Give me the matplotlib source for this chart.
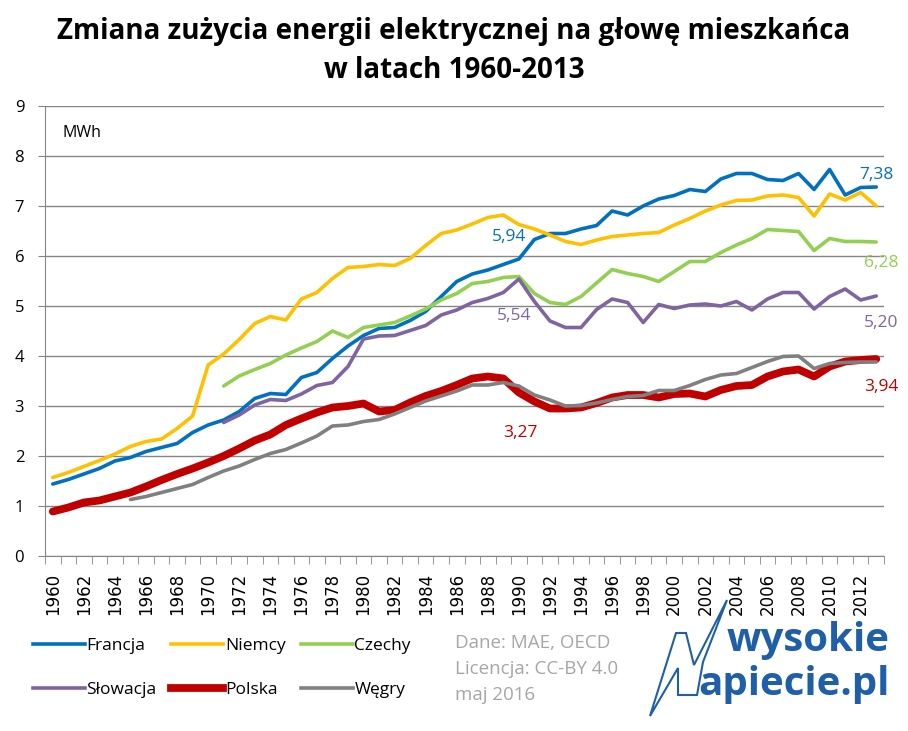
import numpy as np
import matplotlib
matplotlib.use("Agg")
import matplotlib.pyplot as plt
from matplotlib.lines import Line2D
from matplotlib.patches import Polygon

# Years on the category axis
years = list(range(1960, 2014))

# Consumption per capita, MWh; None = no data
francja = [1.44, 1.53, 1.64, 1.75, 1.90, 1.97, 2.09, 2.17, 2.25, 2.47,
           2.62, 2.72, 2.89, 3.15, 3.25, 3.23, 3.57, 3.67, 3.95, 4.20,
           4.41, 4.55, 4.57, 4.71, 4.89, 5.19, 5.49, 5.64, 5.72, 5.83,
           5.94, 6.33, 6.45, 6.45, 6.54, 6.61, 6.90, 6.82, 7.00, 7.14,
           7.21, 7.33, 7.29, 7.54, 7.65, 7.65, 7.53, 7.51, 7.65, 7.33,
           7.73, 7.22, 7.37, 7.38]
niemcy = [1.57, 1.67, 1.79, 1.91, 2.04, 2.19, 2.29, 2.34, 2.55, 2.80,
          3.82, 4.04, 4.33, 4.65, 4.79, 4.72, 5.14, 5.27, 5.55, 5.77,
          5.79, 5.83, 5.81, 5.95, 6.21, 6.45, 6.52, 6.64, 6.77, 6.82,
          6.63, 6.54, 6.42, 6.29, 6.23, 6.32, 6.39, 6.42, 6.45, 6.47,
          6.62, 6.75, 6.90, 7.02, 7.11, 7.12, 7.20, 7.22, 7.17, 6.80,
          7.24, 7.12, 7.27, 7.00]
czechy = [None] * 11 + [
          3.40, 3.60, 3.73, 3.85, 4.02, 4.16, 4.29, 4.50, 4.37,
          4.57, 4.62, 4.67, 4.80, 4.94, 5.12, 5.25, 5.45, 5.49, 5.57,
          5.59, 5.25, 5.07, 5.03, 5.19, 5.46, 5.73, 5.65, 5.59, 5.49,
          5.69, 5.89, 5.89, 6.07, 6.22, 6.35, 6.53, 6.51, 6.49, 6.11,
          6.35, 6.29, 6.29, 6.28]
slowacja = [None] * 11 + [
            2.67, 2.82, 3.02, 3.13, 3.11, 3.24, 3.41, 3.47, 3.79,
            4.34, 4.40, 4.41, 4.51, 4.61, 4.82, 4.92, 5.07, 5.15, 5.27,
            5.54, 5.09, 4.70, 4.57, 4.57, 4.93, 5.14, 5.07, 4.67, 5.03,
            4.95, 5.02, 5.04, 5.00, 5.09, 4.92, 5.14, 5.27, 5.27, 4.94,
            5.19, 5.34, 5.12, 5.20]
polska = [0.89, 0.97, 1.07, 1.11, 1.19, 1.27, 1.39, 1.52, 1.64, 1.75,
          1.87, 2.00, 2.15, 2.31, 2.43, 2.62, 2.75, 2.87, 2.97, 3.00,
          3.05, 2.89, 2.92, 3.07, 3.20, 3.30, 3.42, 3.55, 3.59, 3.55,
          3.27, 3.09, 2.95, 2.95, 2.97, 3.06, 3.17, 3.22, 3.22, 3.17,
          3.24, 3.25, 3.19, 3.32, 3.40, 3.42, 3.59, 3.69, 3.73, 3.59,
          3.79, 3.89, 3.92, 3.94]
wegry = [None] * 5 + [
         1.13, 1.19, 1.27, 1.35, 1.43,
         1.57, 1.70, 1.80, 1.93, 2.05, 2.13, 2.26, 2.40, 2.60, 2.62,
         2.69, 2.73, 2.84, 2.97, 3.10, 3.20, 3.30, 3.42, 3.42, 3.47,
         3.40, 3.22, 3.12, 3.00, 3.01, 3.06, 3.13, 3.19, 3.21, 3.31,
         3.31, 3.41, 3.53, 3.62, 3.65, 3.77, 3.89, 3.99, 4.00, 3.75,
         3.85, 3.87, 3.88, 3.88]

names = ["Francja", "Niemcy", "Czechy", "Słowacja", "Polska", "Węgry"]
series = [francja, niemcy, czechy, slowacja, polska, wegry]
colors = ["#0070C0", "#FFC000", "#92D050", "#8064A2", "#C00000", "#808080"]
widths = [2.6, 2.6, 2.6, 2.6, 5.6, 2.6]

# value labels: (series index, text, label x (year), label y)
labels = [(0, "5,94", 1989.4, 6.38),
          (3, "5,54", 1989.7, 4.80),
          (4, "3,27", 1990.1, 2.46),
          (0, "7,38", 2013.0, 7.62),
          (2, "6,28", 2013.3, 5.86),
          (3, "5,20", 2013.3, 4.66),
          (4, "3,94", 2013.3, 3.38)]

fig = plt.figure(figsize=(9.08, 7.31), dpi=100)
ax = fig.add_axes([45 / 908, 1 - 556 / 731, 839 / 908, 450 / 731])

x = np.arange(len(years))
for vals, name, col, lw in zip(series, names, colors, widths):
    y = np.array([np.nan if v is None else v for v in vals])
    ax.plot(x, y, color=col, lw=lw, label=name,
            solid_capstyle="round", solid_joinstyle="round")

for idx, txt, lx, ly in labels:
    ax.text(lx - years[0], ly, txt, color=colors[idx], fontsize=12.5,
            family="Open Sans", ha="center", va="center")

ax.text(0.65, 8.46, "MWh", fontsize=11.5, family="Open Sans",
        ha="left", va="center")

ax.set_xlim(-0.5, len(years) - 0.5)
ax.set_ylim(0, 9)
ax.set_yticks(range(10))
ax.set_yticklabels([str(i) for i in range(10)], family="Open Sans",
                   fontsize=12)
ax.set_xticks(x[::2])
ax.set_xticklabels([str(yr) for yr in years[::2]], rotation=90,
                   family="DejaVu Sans", fontsize=12)
ax.set_xticks(np.arange(-0.5, len(years)), minor=True)
ax.tick_params(axis="x", which="major", length=0, pad=12)
ax.tick_params(axis="x", which="minor", length=6, color="#868686")
ax.tick_params(axis="y", length=5, color="#868686", pad=10)
ax.grid(axis="y", color="#868686", lw=1)
ax.set_axisbelow(True)
for s in ["top", "right"]:
    ax.spines[s].set_visible(False)
for s in ["left", "bottom"]:
    ax.spines[s].set_color("#868686")

fig.text(0.5, 1 - 32 / 731,
         "Zmiana zużycia energii elektrycznej na głowę mieszkańca",
         ha="center", va="center", fontsize=20, weight="bold", family="Open Sans")
fig.text(0.5, 1 - 70 / 731, "w latach 1960-2013",
         ha="center", va="center", fontsize=20, weight="bold", family="Open Sans")

# legend, 2 rows x 3 columns
handles = [Line2D([], [], color=c, lw=lw) for c, lw in zip(colors, widths)]
order = [0, 3, 1, 4, 2, 5]
fig.legend([handles[i] for i in order], [names[i] for i in order], ncol=3,
           loc="upper left", bbox_to_anchor=(17 / 908, 1 - 622 / 731),
           frameon=False, handlelength=3.0, handletextpad=0.1,
           columnspacing=0.85, labelspacing=1.6,
           prop={"family": "Open Sans", "size": 12.5})

gray = "#A6A6A6"
for i, line in enumerate(["Dane: MAE, OECD", "Licencja: CC-BY 4.0", "maj 2016"]):
    fig.text(455 / 908, 1 - (643 + 26 * i) / 731, line, color=gray,
             fontsize=13.5, ha="left", va="center", family="Open Sans")

# logo
blue = "#1F5FAA"
fig.text(890 / 908, 1 - 640 / 731, "wysokie", color=blue, fontsize=29,
         weight="bold", ha="right", va="center", family="Open Sans")
fig.text(890 / 908, 1 - 685 / 731, "apiecie.pl", color=blue, fontsize=29,
         weight="bold", ha="right", va="center", family="Open Sans")
ov = fig.add_axes([0, 0, 1, 1], facecolor="none")
ov.set_xlim(0, 908)
ov.set_ylim(731, 0)
ov.axis("off")
bolt = [(727, 600), (694, 665), (686, 633), (676, 633), (650, 716),
        (678, 668), (678, 695), (697, 695), (703, 662)]
ov.add_patch(Polygon(bolt, closed=True, fill=False, ec=blue, lw=1.5,
                     joinstyle="miter"))

fig.savefig("out.png", dpi=100)
